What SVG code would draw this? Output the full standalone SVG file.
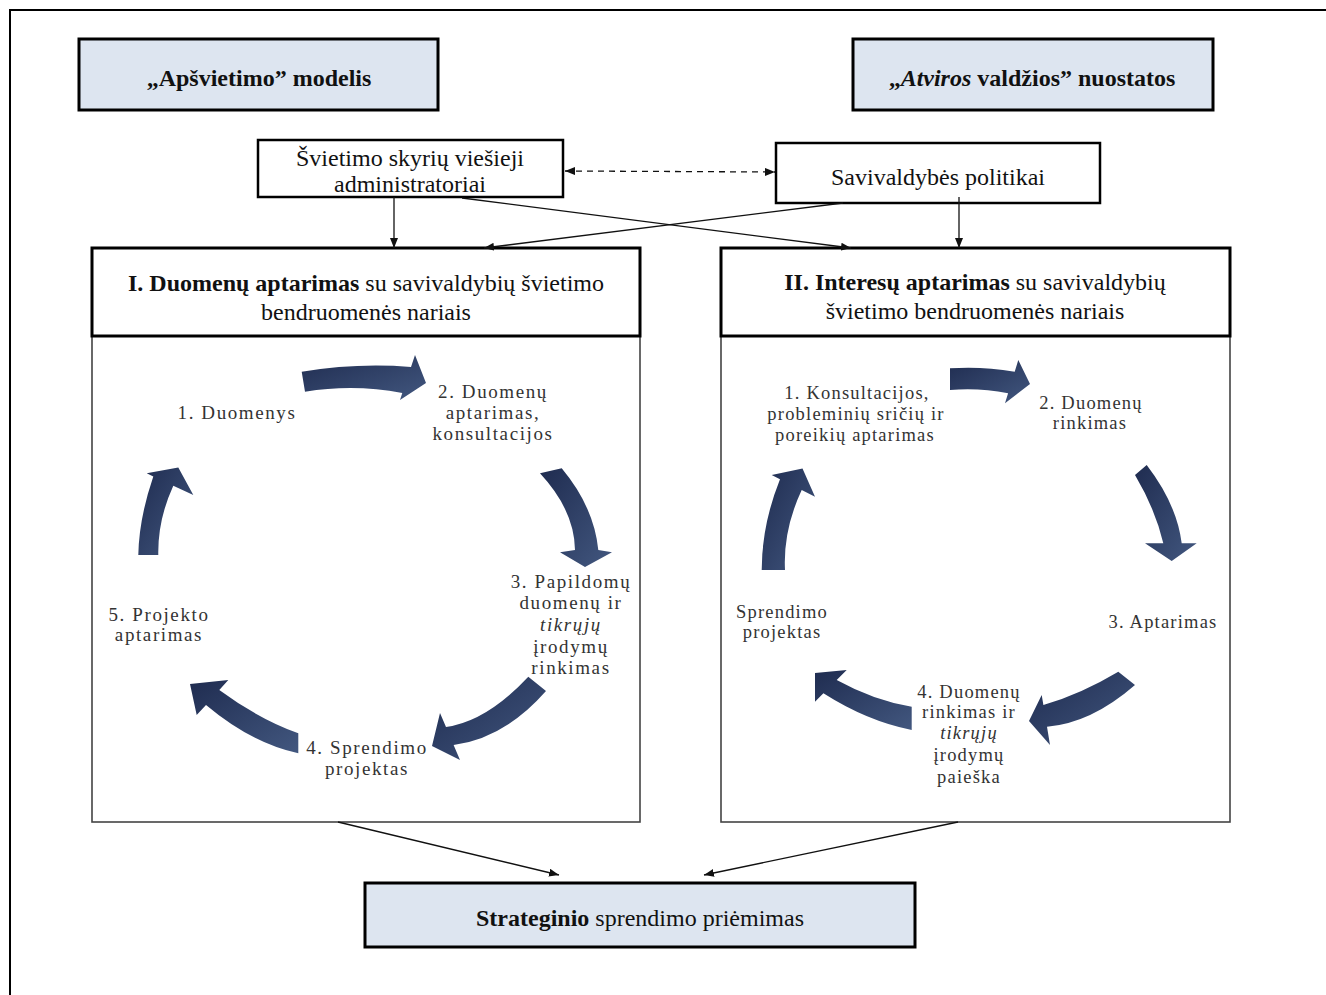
<svg xmlns="http://www.w3.org/2000/svg" width="1326" height="995" viewBox="0 0 1326 995">
<defs>
<style>
.frame{fill:none;stroke:#000;stroke-width:2}
.hdr{fill:#dde5f0;stroke:#000;stroke-width:3}
.box{fill:#fff;stroke:#000;stroke-width:2.5}
.body{fill:#fff;stroke:#444;stroke-width:1.6}
.t{font-family:"Liberation Serif","Times New Roman",serif;font-size:24px;fill:#111;text-anchor:middle}
.b{font-weight:bold}
.c{font-family:"Liberation Serif","Times New Roman",serif;font-size:19px;fill:#333;text-anchor:middle;letter-spacing:1.6px}
.c2{font-family:"Liberation Serif","Times New Roman",serif;font-size:18.5px;fill:#333;text-anchor:middle;letter-spacing:1.2px}
.ln{fill:none;stroke:#111;stroke-width:1.3}
.arc{fill:url(#g)}
</style>
<linearGradient id="g" x1="0" y1="0" x2="1" y2="1">
<stop offset="0" stop-color="#1f2c50"/>
<stop offset="1" stop-color="#42577f"/>
</linearGradient>
<marker id="ah" markerUnits="userSpaceOnUse" markerWidth="10" markerHeight="8" refX="10" refY="4" orient="auto-start-reverse">
<path d="M0,0 L10,4 L0,8 Z" fill="#111"/>
</marker>
</defs>
<rect width="1326" height="995" fill="#fff"/>
<path class="frame" d="M10,995 V10 H1326"/>

<g id="apsvietimo">
<rect class="hdr" x="79" y="39" width="359" height="71"/>
<text class="t b" x="259" y="86">„Apšvietimo” modelis</text>
</g>

<g id="atviros">
<rect class="hdr" x="853" y="39" width="360" height="71"/>
<text class="t b" x="1032" y="86">„<tspan font-style="italic">Atviros</tspan> valdžios” nuostatos</text>
</g>

<g id="administratoriai">
<rect class="box" x="258" y="140" width="305" height="57"/>
<text class="t" x="410" y="166">Švietimo skyrių viešieji</text>
<text class="t" x="410" y="192">administratoriai</text>
</g>

<g id="politikai">
<rect class="box" x="776" y="143" width="324" height="60"/>
<text class="t" x="938" y="185">Savivaldybės politikai</text>
</g>

<g id="blokas1">
<rect class="body" x="92" y="336" width="548" height="486"/>
<rect class="box" x="92" y="248" width="548" height="88" style="stroke-width:3"/>
<text class="t" x="366" y="291"><tspan class="b">I. Duomenų aptarimas</tspan> su savivaldybių švietimo</text>
<text class="t" x="366" y="320">bendruomenės nariais</text>
<g id="ciklas1">
<path class="arc" d="M301.7,371.7 Q356.7,362.7 411,367 L415,355 L426,383 L400,400 L402.3,393 Q354.2,383.7 305,391.7 Z"/>
<path class="arc" d="M540,473.3 L561.7,468.3 Q594,506.9 598.3,550 L612,552.3 L585,567 L560,552.3 L575,550 Q574.5,510.4 540,473.3 Z"/>
<path class="arc" d="M528.3,676.7 Q486.9,721.2 446,727 L440,713 L432,746 L460,760 L453.6,745 Q504.7,738 546,691 Z"/>
<path class="arc" d="M298.3,733.3 Q258.9,719.2 219.3,690 L228.3,680 L190,684 L196.7,715 L206,705 Q252,743.5 298.3,753.3 Z"/>
<path class="arc" d="M138.3,555 Q139,518.4 153.3,476.4 L146.7,473.3 L178.3,467.5 L193.3,495 L173.3,485.7 Q157.6,520 158.3,555 Z"/>
<text class="c" x="237" y="419">1. Duomenys</text>
<text class="c" x="493" y="398">2. Duomenų</text>
<text class="c" x="493" y="419">aptarimas,</text>
<text class="c" x="493" y="440">konsultacijos</text>
<text class="c" x="571" y="588">3. Papildomų</text>
<text class="c" x="571" y="609">duomenų ir</text>
<text class="c" x="571" y="631" font-style="italic">tikrųjų</text>
<text class="c" x="571" y="653">įrodymų</text>
<text class="c" x="571" y="674">rinkimas</text>
<text class="c" x="367" y="754">4. Sprendimo</text>
<text class="c" x="367" y="775">projektas</text>
<text class="c" x="159" y="621">5. Projekto</text>
<text class="c" x="159" y="641">aptarimas</text>
</g>
</g>

<g id="blokas2">
<rect class="body" x="721" y="336" width="509" height="486"/>
<rect class="box" x="721" y="248" width="509" height="88" style="stroke-width:3"/>
<text class="t" x="975" y="290"><tspan class="b">II. Interesų aptarimas</tspan> su savivaldybių</text>
<text class="t" x="975" y="319">švietimo bendruomenės nariais</text>
<g id="ciklas2">
<path class="arc" d="M950,368.3 Q981.7,366 1014.7,371.7 L1018.3,360 L1030,384 L1005,403.3 L1008.1,393.3 Q979,387.4 950,390 Z"/>
<path class="arc" d="M1135,475 L1146.7,465 Q1176.8,504.2 1181.7,543.3 L1196.7,543.3 L1171.7,561 L1145,543.3 L1163.3,543.3 Q1155.3,509.2 1135,475 Z"/>
<path class="arc" d="M1118.3,671.7 Q1080.9,694.1 1043.4,705 L1041.7,695 L1029,721 L1050,745 L1047,726.7 Q1091,723.2 1135,685 Z"/>
<path class="arc" d="M911.7,706.7 Q874.2,700.7 836.7,680 L846.7,670 L815,673 L815,701.7 L823.4,693.3 Q867.6,721.4 911.7,730 Z"/>
<path class="arc" d="M761.7,570 Q761.8,524.6 780,479.2 L771.7,475 L802.5,468.5 L815,496.7 L801.7,490 Q783,530 785,570 Z"/>
<text class="c2" x="857" y="399">1. Konsultacijos,</text>
<text class="c2" x="856" y="420">probleminių sričių ir</text>
<text class="c2" x="855" y="441">poreikių aptarimas</text>
<text class="c2" x="1091" y="409">2. Duomenų</text>
<text class="c2" x="1090" y="429">rinkimas</text>
<text class="c2" x="1163" y="628">3. Aptarimas</text>
<text class="c2" x="969" y="698">4. Duomenų</text>
<text class="c2" x="969" y="718">rinkimas ir</text>
<text class="c2" x="969" y="739" font-style="italic">tikrųjų</text>
<text class="c2" x="969" y="761">įrodymų</text>
<text class="c2" x="969" y="783">paieška</text>
<text class="c2" x="782" y="618">Sprendimo</text>
<text class="c2" x="782" y="638">projektas</text>
</g>
</g>

<g id="sprendimas">
<rect class="hdr" x="365" y="883" width="550" height="64"/>
<text class="t" x="640" y="926"><tspan class="b">Strateginio</tspan> sprendimo priėmimas</text>
</g>

<g id="jungtys">
<line class="ln" x1="565" y1="171" x2="775" y2="172" stroke-dasharray="6,5" marker-start="url(#ah)" marker-end="url(#ah)"/>
<line class="ln" x1="394" y1="197" x2="394" y2="248" marker-end="url(#ah)"/>
<line class="ln" x1="462" y1="198" x2="851" y2="248" marker-end="url(#ah)"/>
<line class="ln" x1="843" y1="203" x2="484" y2="248" marker-end="url(#ah)"/>
<line class="ln" x1="959" y1="197" x2="959" y2="248" marker-end="url(#ah)"/>
<line class="ln" x1="338" y1="822" x2="559" y2="875" marker-end="url(#ah)"/>
<line class="ln" x1="958" y1="822" x2="704" y2="875" marker-end="url(#ah)"/>
</g>
</svg>
